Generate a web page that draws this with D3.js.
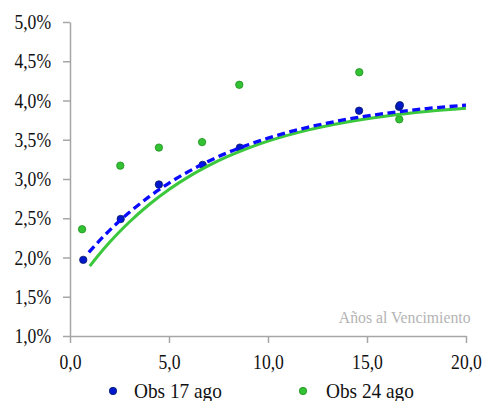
<!DOCTYPE html>
<html><head><meta charset="utf-8">
<script src="https://cdn.jsdelivr.net/npm/d3@7"></script>
<style>body{margin:0;background:#fff}svg{display:block}svg text{font-family:"Liberation Serif","Times New Roman",serif}</style>
</head><body>
<script>
// Data
const obs17 = [[0.67,1.97],[2.56,2.49],[4.49,2.93],[6.70,3.18],[8.58,3.40],[14.60,3.87],[16.62,3.92],[16.66,3.94]];
const obs24 = [[0.61,2.36],[2.54,3.17],[4.49,3.40],[6.67,3.47],[8.55,4.20],[14.61,4.36],[16.63,3.76]];
const curve17 = [[0.95,2.066],[1.5,2.218],[2,2.346],[2.5,2.465],[3,2.576],[4,2.775],[5,2.948],[6,3.097],[7,3.227],[8,3.340],[9,3.437],[10,3.521],[12,3.658],[14,3.761],[16,3.838],[18,3.897],[20,3.940]];
const curve24 = [[1,1.890],[1.5,2.047],[2,2.193],[2.5,2.328],[3,2.452],[4,2.675],[5,2.866],[6,3.030],[7,3.170],[8,3.290],[9,3.394],[10,3.482],[12,3.623],[14,3.727],[16,3.803],[18,3.859],[20,3.900]];
const xTicks = [0,5,10,15,20];
const yTicks = [1.0,1.5,2.0,2.5,3.0,3.5,4.0,4.5,5.0];
const legendLabels = ["Obs 17 ago","Obs 24 ago"];
const axisTitle = "Años al Vencimiento";

const W = 484, H = 401;
const svg = d3.select("body").append("svg").attr("width",W).attr("height",H);
const x = d3.scaleLinear().domain([0,20]).range([70,466]);
const y = d3.scaleLinear().domain([1,5]).range([336,22]);
const fmt = d => d.toFixed(1).replace(".", ",");
const font = '"Liberation Serif","Times New Roman",serif';
const axisColor = "#a6a6a6";

// Y axis
const gy = svg.append("g").attr("transform","translate(70,0)")
  .call(d3.axisLeft(y).tickValues(yTicks).tickSize(7).tickSizeOuter(0).tickFormat(d=>fmt(d)+"%"));
// X axis
const gx = svg.append("g").attr("transform","translate(0,336)")
  .call(d3.axisBottom(x).tickValues(xTicks).tickSize(7).tickSizeOuter(0).tickFormat(fmt));
[gx,gy].forEach(g=>{
  g.attr("font-family",null);
  g.select(".domain").attr("stroke",axisColor).attr("stroke-width",1.5);
  g.selectAll(".tick line").attr("stroke",axisColor).attr("stroke-width",1.5);
  g.selectAll(".tick text").style("font-family",font).style("font-size","20px").attr("fill","#111");
});
gy.selectAll(".tick text").attr("x",-21.5).attr("dy","0.33em").attr("transform","scale(0.88,1)");
gx.selectAll(".tick text").attr("y",33).attr("dy",0).attr("x",0).attr("text-anchor","middle").attr("transform","scale(0.88,1)");

// axis title
svg.append("text").attr("transform",`translate(470.5,323) scale(0.9,1)`)
  .attr("text-anchor","end").style("font-family",font).style("font-size","17.5px")
  .attr("fill","#b4b4b4").text(axisTitle);

// points
svg.append("g").selectAll("circle").data(obs24).join("circle")
  .attr("cx",d=>x(d[0])).attr("cy",d=>y(d[1])).attr("r",3.7)
  .attr("fill","#33c233").attr("stroke","#1e8f1e").attr("stroke-width",0.8);
svg.append("g").selectAll("circle").data(obs17).join("circle")
  .attr("cx",d=>x(d[0])).attr("cy",d=>y(d[1])).attr("r",3.7)
  .attr("fill","#0018cc").attr("stroke","#0a1a66").attr("stroke-width",0.8);

// curves
const line = d3.line().x(d=>x(d[0])).y(d=>y(d[1])).curve(d3.curveMonotoneX);
svg.append("path").datum(curve24).attr("d",line).attr("fill","none")
  .attr("stroke","#3cc83c").attr("stroke-width",3);
svg.append("path").datum(curve17).attr("d",line).attr("fill","none")
  .attr("stroke","#0a0aff").attr("stroke-width",3.3).attr("stroke-dasharray","8,4.5");

// legend
const leg = [{label:legendLabels[0],fill:"#0018cc",stroke:"#0a1a66",cx:113,tx:134},
             {label:legendLabels[1],fill:"#33c233",stroke:"#1e8f1e",cx:303,tx:326}];
leg.forEach(l=>{
  svg.append("circle").attr("cx",l.cx).attr("cy",391).attr("r",3.7).attr("fill",l.fill).attr("stroke",l.stroke).attr("stroke-width",0.8);
  svg.append("text").attr("transform",`translate(${l.tx},398) scale(0.92,1)`)
    .style("font-family",font).style("font-size","21px").attr("fill","#111").text(l.label);
});
</script>
</body></html>
